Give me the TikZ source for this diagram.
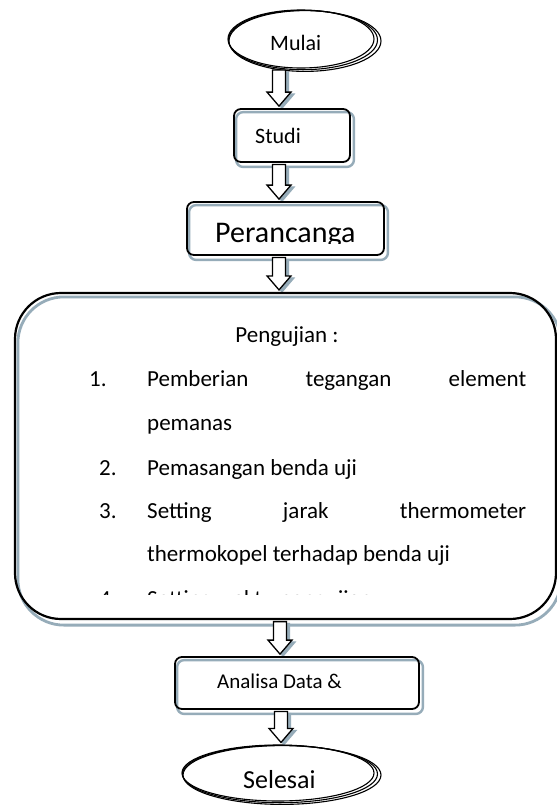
\documentclass[tikz,border=0pt]{standalone}
\usepackage{fontspec}
\setmainfont{Carlito}
\usetikzlibrary{shapes.geometric,calc}
\definecolor{shadowgray}{RGB}{150,172,185}
\pgfdeclarelayer{bg}
\pgfsetlayers{bg,main}
\tikzset{
  flowbox/.style={rectangle, draw=black, line width=1.8pt, rounded corners=7pt, inner sep=0pt},
  bigbox/.style={rectangle, draw=black, line width=2.2pt, rounded corners=46pt, inner sep=0pt},
  term/.style={ellipse, draw=black, line width=1.1pt, inner sep=0pt},
  termline/.style={draw=black, line width=1.1pt},
  txt/.style={inner sep=0pt, anchor=base west, font=\fontsize{22}{26}\selectfont},
  listtxt/.style={txt, font=\fontsize{23}{28}\selectfont},
  shadowline/.style={draw=shadowgray, line width=2.4pt},
  barrowstyle/.style={draw=black, fill=white, line width=1.3pt, line join=miter},
  barrowshadow/.style={fill=shadowgray, draw=shadowgray, line width=1.3pt},
}
\newcommand\arrowpath[3]{(#1-6.5pt,#2) -- (#1+6.5pt,#2) -- (#1+6.5pt,#3+14pt) -- (#1+12pt,#3+14pt) -- (#1,#3) -- (#1-12pt,#3+14pt) -- (#1-6.5pt,#3+14pt) -- cycle}
\newcommand\blockarrow[3]{%
  \begin{pgfonlayer}{bg}
    \path[barrowshadow] let \p1=(#1.south), \p2=(#2.north) in
      \arrowpath{#3pt+3pt}{\y1-3.5pt}{\y2};
  \end{pgfonlayer}
  \path[barrowstyle] let \p1=(#1.south), \p2=(#2.north) in
      \arrowpath{#3pt}{\y1-1.5pt}{\y2+2pt};
}
\begin{document}
\begin{tikzpicture}[x=1pt,y=-1pt]
\begin{pgfonlayer}{bg}
  \fill[white] (0,0) rectangle (557,807);
\end{pgfonlayer}
\useasboundingbox (0,0) rectangle (557,807);

% Mulai
\node[term, minimum width=146, minimum height=58] (mulai) at (301,39) {};
\draw[termline] ([shift={(2,1)}]mulai.center) ellipse [x radius=74.5, y radius=29.7];
\draw[termline] ([shift={(4,2)}]mulai.center) ellipse [x radius=76, y radius=30.4];
\node[txt] (mulait) at (270,50) {Mulai};

% Studi
\node[flowbox, minimum width=116, minimum height=53] (studi) at (292,135.5) {};
\begin{pgfonlayer}{bg}
  \draw[shadowline, rounded corners=7pt] ([shift={(3,4)}]studi.north west) rectangle ([shift={(3,4)}]studi.south east);
\end{pgfonlayer}
\node[txt] (studit) at (255,143) {Studi};

% Perancangan
\node[flowbox, minimum width=197, minimum height=53] (peran) at (285.5,228.5) {};
\begin{pgfonlayer}{bg}
  \draw[shadowline, rounded corners=7pt] ([shift={(3,4)}]peran.north west) rectangle ([shift={(3,4)}]peran.south east);
\end{pgfonlayer}
\begin{scope}
  \clip (186,202) rectangle (385,243.5);
  \node[txt, font=\fontsize{30}{35}\selectfont] (perant) at (215,242) {Perancanga};
\end{scope}

% Pengujian
\node[bigbox, minimum width=541, minimum height=326] (uji) at (285.5,456) {};
\begin{pgfonlayer}{bg}
  \draw[shadowline, line width=2.8pt, rounded corners=46pt] ([shift={(4,5)}]uji.north west) rectangle ([shift={(4,5)}]uji.south east);
\end{pgfonlayer}
\node[listtxt, anchor=base] (ujit) at (287,342) {Pengujian :};
\node[listtxt] (n1) at (89,386) {1.};
\node[listtxt] (l1) at (147,386) {\makebox[379pt][s]{Pemberian tegangan element}};
\node[listtxt] (l1b) at (147,430) {pemanas};
\node[listtxt] (n2) at (99,475) {2.};
\node[listtxt] (l2) at (147,475) {Pemasangan benda uji};
\node[listtxt] (n3) at (99,518) {3.};
\node[listtxt] (l3) at (147,518) {\makebox[379pt][s]{Setting jarak thermometer}};
\node[listtxt] (l3b) at (147,561) {thermokopel terhadap benda uji};
\begin{scope}
  \clip (15,293) rectangle (556,594.5);
  \node[listtxt] (n4) at (99,606) {4.};
  \node[listtxt] (l4) at (147,606) {Setting waktu pengujian};
\end{scope}

% Analisa
\node[flowbox, minimum width=244, minimum height=52] (ana) at (297,683) {};
\begin{pgfonlayer}{bg}
  \draw[shadowline, rounded corners=7pt] ([shift={(3,4)}]ana.north west) rectangle ([shift={(3,4)}]ana.south east);
\end{pgfonlayer}
\node[txt, font=\fontsize{21}{25}\selectfont] (anat) at (217,688) {Analisa Data \&};

% Selesai
\node[term, minimum width=192, minimum height=56] (sel) at (278,773) {};
\draw[termline] ([shift={(2,1)}]sel.center) ellipse [x radius=97.5, y radius=28.7];
\draw[termline] ([shift={(4,2)}]sel.center) ellipse [x radius=99, y radius=29.4];
\node[txt, font=\fontsize{26}{30}\selectfont] (selt) at (243,788) {Selesai};

% arrows
\blockarrow{mulai}{studi}{279}
\blockarrow{studi}{peran}{279}
\blockarrow{peran}{uji}{279}
\blockarrow{uji}{ana}{280}
\blockarrow{ana}{sel}{281}
\end{tikzpicture}
\end{document}
